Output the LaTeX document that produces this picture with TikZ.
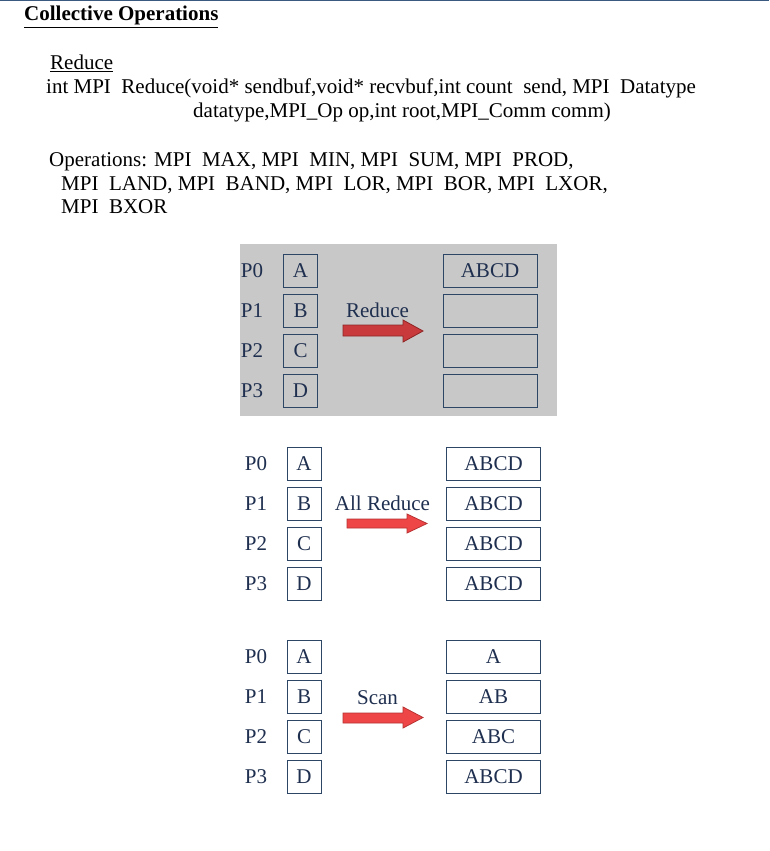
\documentclass[tikz,border=0pt]{standalone}
\usepackage{fontspec}
\setmainfont{Liberation Serif}
\definecolor{topline}{HTML}{3B5A80}
\definecolor{navy}{HTML}{1F2F4F}
\definecolor{boxline}{HTML}{2E4666}
\definecolor{panel}{HTML}{C8C8C8}
\definecolor{darkred}{HTML}{C83A3C}
\definecolor{darkredline}{HTML}{8E2424}
\definecolor{brightred}{HTML}{EE4646}
\definecolor{brightredline}{HTML}{B83232}
\tikzset{
  hdr/.style={anchor=base west,inner sep=0pt,font=\fontsize{21}{24}\selectfont},
  plabel/.style={text=navy,inner sep=0pt,font=\fontsize{21}{24}\selectfont},
  cell/.style={draw=boxline,line width=1pt,minimum width=34pt,minimum height=33pt,inner sep=0pt,text=navy,font=\fontsize{21}{24}\selectfont},
  wcell/.style={cell,minimum width=94pt},
  oplabel/.style={text=navy,inner sep=0pt,font=\fontsize{21}{24}\selectfont},
}
\begin{document}
\begin{tikzpicture}[x=1pt,y=-1pt]
\useasboundingbox (0,0) rectangle (769,851);
\fill[white] (0,0) rectangle (769,851);
\fill[topline] (0,0) rectangle (769,1.5);
% header
\node[hdr,font=\fontsize{21}{24}\selectfont\bfseries] (title) at (24,21) {\underline{Collective Operations}};
\node[hdr] (sub) at (50,69.5) {\underline{Reduce}};
\node[hdr] (l1) at (46,93) {int MPI\ \ Reduce(void* sendbuf,void* recvbuf,int count\ \ send, MPI\ \ Datatype};
\node[hdr] (l2) at (193,117) {datatype,MPI\_Op op,int root,MPI\_Comm comm)};
\node[hdr] (o1) at (49,166.5) {Operations: MPI\ \ MAX, MPI\ \ MIN, MPI\ \ SUM, MPI\ \ PROD,};
\node[hdr] (o2) at (61,190) {MPI\ \ LAND, MPI\ \ BAND, MPI\ \ LOR, MPI\ \ BOR, MPI\ \ LXOR,};
\node[hdr] (o3) at (61,213.5) {MPI\ \ BXOR};
% panel 1
\fill[panel] (240,244) rectangle (557,416);
\foreach \i/\t/\r in {0/A/ABCD,1/B/,2/C/,3/D/}{
  \node[plabel] (pa\i) at (252,270.5+40*\i) {P\i};
  \node[cell] (sa\i) at (300.5,270.5+40*\i) {\t};
  \node[wcell] (ra\i) at (490,270.5+40*\i) {\r};
}
\node[oplabel] (opa) at (377.5,310) {Reduce};
\filldraw[fill=darkred,draw=darkredline,line width=0.8pt] (343,325) -- (403,325) -- (403,320) -- (423,331) -- (403,342) -- (403,336) -- (343,336) -- cycle;
% panel 2
\foreach \i/\t in {0/A,1/B,2/C,3/D}{
  \node[plabel] (pb\i) at (256,463.5+40*\i) {P\i};
  \node[cell] (sb\i) at (304,463.5+40*\i) {\t};
  \node[wcell] (rb\i) at (493.5,463.5+40*\i) {ABCD};
}
\node[oplabel] (opb) at (382.5,503) {All Reduce};
\filldraw[fill=brightred,draw=brightredline,line width=0.8pt] (347,519) -- (407,519) -- (407,514) -- (427,523.5) -- (407,533) -- (407,528) -- (347,528) -- cycle;
% panel 3
\foreach \i/\t/\r in {0/A/A,1/B/AB,2/C/ABC,3/D/ABCD}{
  \node[plabel] (pc\i) at (256,656.5+40*\i) {P\i};
  \node[cell] (sc\i) at (304,656.5+40*\i) {\t};
  \node[wcell] (rc\i) at (493.5,656.5+40*\i) {\r};
}
\node[oplabel] (opc) at (377.5,698) {Scan};
\filldraw[fill=brightred,draw=brightredline,line width=0.8pt] (343,713) -- (403,713) -- (403,707) -- (423,717.5) -- (403,728) -- (403,723) -- (343,723) -- cycle;
\end{tikzpicture}
\end{document}
